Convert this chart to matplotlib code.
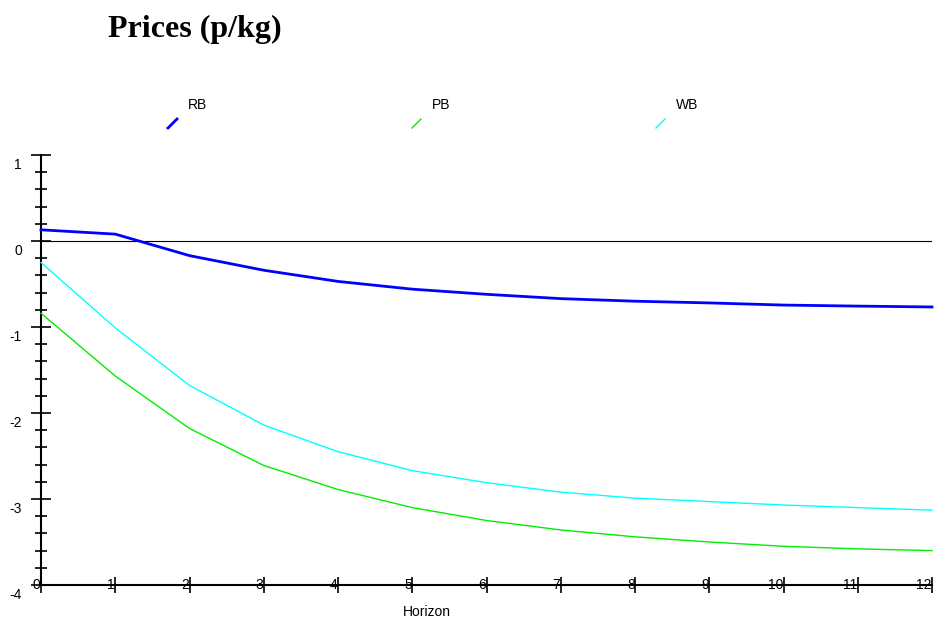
import matplotlib
matplotlib.use("Agg")
import matplotlib.pyplot as plt
import matplotlib.transforms as mtransforms
from matplotlib.lines import Line2D
import numpy as np

# data
horizon = list(range(13))
rb = [0.13, 0.08, -0.17, -0.34, -0.47, -0.56, -0.62, -0.67, -0.70, -0.72, -0.745, -0.757, -0.767]
pb = [-0.84, -1.57, -2.18, -2.61, -2.89, -3.10, -3.25, -3.36, -3.44, -3.50, -3.55, -3.58, -3.60]
wb = [-0.25, -1.01, -1.68, -2.14, -2.45, -2.67, -2.81, -2.92, -2.99, -3.03, -3.07, -3.10, -3.13]
names = ["RB", "PB", "WB"]
colors = ["#0000ff", "#00ee00", "#00ffff"]
widths = [2.0, 1.0, 1.0]
yticks = [1, 0, -1, -2, -3, -4]

plt.rcParams["font.family"] = ["Liberation Sans", "DejaVu Sans"]

fig = plt.figure(figsize=(9.39, 6.22), dpi=100)
ax = fig.add_axes([41/939, 1-585/622, (932-41)/939, (585-155)/622])

for vals, c, w in zip([rb, pb, wb], colors, widths):
  ax.plot(horizon, vals, color=c, lw=w, clip_on=False, zorder=3)

ax.axhline(0, color="black", lw=0.8, zorder=2)

ax.set_xlim(0, 12)
ax.set_ylim(-4, 1)
for s in ["top", "right"]:
  ax.spines[s].set_visible(False)
ax.spines["left"].set_linewidth(1.5)
ax.spines["bottom"].set_linewidth(1.5)

ax.set_xticks(horizon)
ax.set_yticks(yticks)
ax.set_yticks(np.arange(-4, 1.01, 0.2), minor=True)
ax.tick_params(axis="y", which="major", direction="inout", length=15, width=1.2, labelleft=False)
ax.tick_params(axis="y", which="minor", direction="inout", length=8, width=1.2)
ax.tick_params(axis="x", which="major", direction="inout", length=12, width=1.2, labelbottom=False)

# y labels sit below their ticks, x labels to the left of theirs
ylab_off = mtransforms.ScaledTranslation(-0.19, -0.10, fig.dpi_scale_trans)
for v in yticks:
  ax.text(0, v, str(v), transform=ax.get_yaxis_transform() + ylab_off,
          ha="right", va="center", fontsize=10)
xlab_off = mtransforms.ScaledTranslation(-0.003, 0.0, fig.dpi_scale_trans)
for h in horizon:
  ax.text(h, -4, str(h), transform=ax.transData + xlab_off,
          ha="right", va="center", fontsize=10)

fig.text(427/939, 1-612/622, "Horizon", ha="center", va="center", fontsize=10)
fig.text(108/939, 1-29/622, "Prices (p/kg)", ha="left", va="center",
         fontsize=23, fontweight="bold", family=["Liberation Serif", "DejaVu Serif"])

# legend: short diagonal strokes with labels above-right
for i, (n, c, w) in enumerate(zip(names, colors, widths)):
  x0 = 168 + 244*i
  fig.add_artist(Line2D([x0/939, (x0+9)/939], [1-128/622, 1-119/622], color=c, lw=w))
  fig.text((x0+20)/939, 1-105/622, n, ha="left", va="center", fontsize=10)

fig.savefig("out.png", dpi=100)
